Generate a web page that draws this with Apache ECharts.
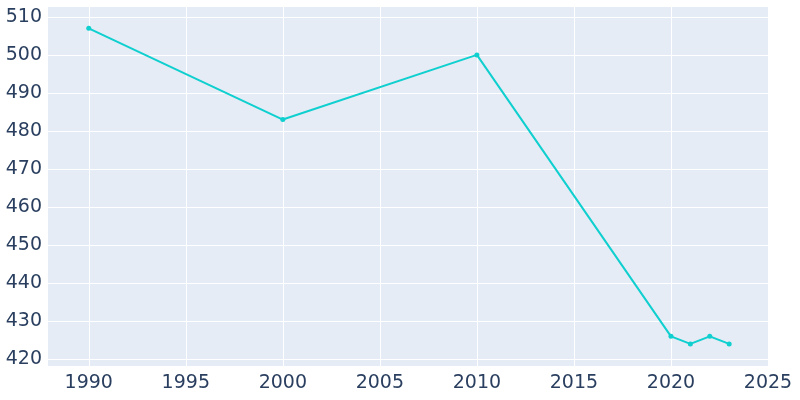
<!DOCTYPE html><html><head><meta charset="utf-8">
<script src="https://cdn.jsdelivr.net/npm/echarts@6/dist/echarts.min.js"></script>
<style>html,body{margin:0;padding:0;background:#fff}#c{width:800px;height:400px}</style></head>
<body><div id="c"></div><script>
const years=[1990,2000,2010,2020,2021,2022,2023];
const values=[507,483,500,426,424,426,424];
const xTicks=[1990,1995,2000,2005,2010,2015,2020,2025];
const yTicks=[420,430,440,450,460,470,480,490,500,510];
const chart=echarts.init(document.getElementById('c'));
const lab={color:'#2a3f5f',fontSize:19,fontFamily:'DejaVu Sans',formatter:v=>String(v)};
chart.setOption({
 animation:false,
 grid:{left:48,right:32,top:7,bottom:34,show:true,backgroundColor:'#e5ecf6',borderWidth:0},
 xAxis:{type:'value',min:1987.9,max:2025,
  axisLine:{show:false},axisTick:{show:false,customValues:xTicks},
  axisLabel:Object.assign({customValues:xTicks,margin:8},lab),
  splitLine:{show:true,lineStyle:{color:'#fff',width:1}}},
 yAxis:{type:'value',min:418.2,max:512.6,
  axisLine:{show:false},axisTick:{show:false,customValues:yTicks},
  axisLabel:Object.assign({customValues:yTicks,margin:6},lab),
  splitLine:{show:true,lineStyle:{color:'#fff',width:1}}},
 series:[{type:'line',data:years.map((y,i)=>[y,values[i]]),
  symbol:'circle',symbolSize:5,
  lineStyle:{color:'#0fcfcf',width:2},itemStyle:{color:'#0fcfcf'}}]
});
</script></body></html>
